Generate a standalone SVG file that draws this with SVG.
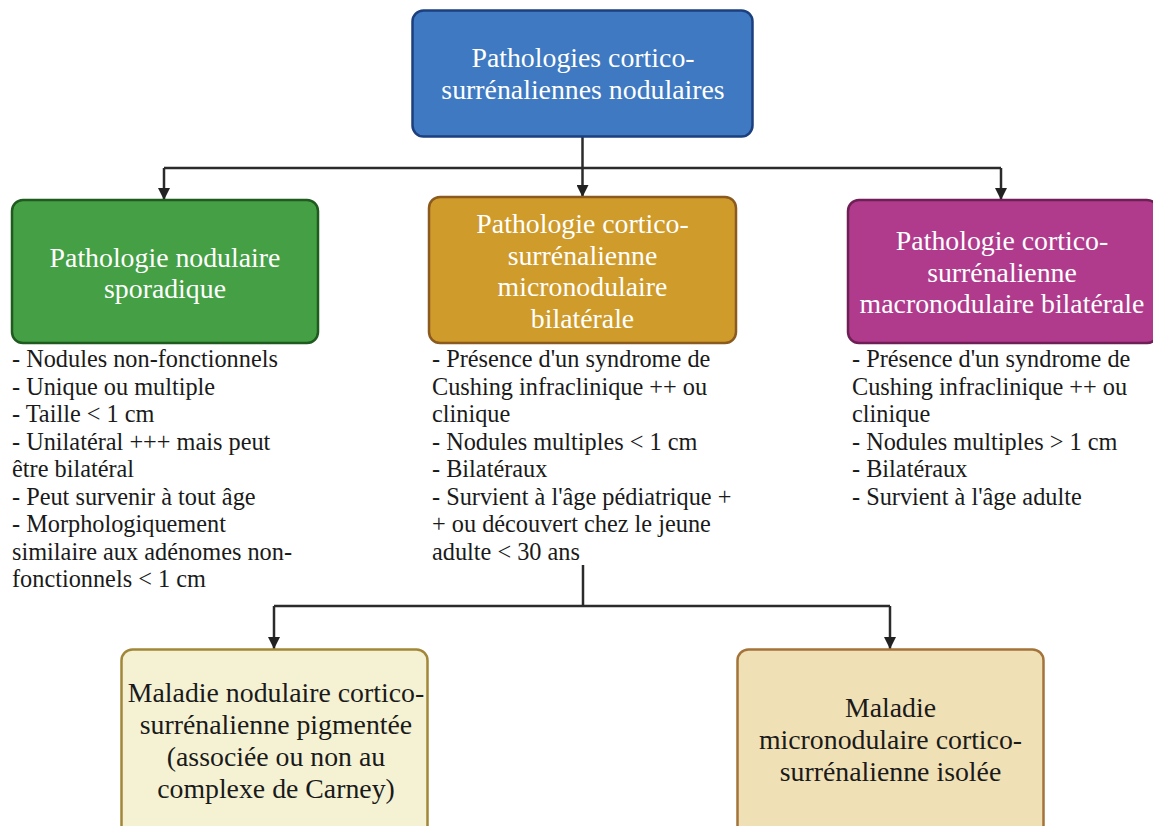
<svg xmlns="http://www.w3.org/2000/svg" width="1153" height="826" viewBox="0 0 1153 826">
<style>
.box{stroke-width:2.5}
.t{font-family:"Liberation Serif","Times New Roman",serif;font-size:27.8px;text-anchor:middle}
.w{fill:#ffffff}
.d{fill:#1a1a1a}
.b{font-family:"Liberation Serif","Times New Roman",serif;font-size:24.3px;fill:#1a1a1a}
.c{fill:none;stroke:#2b2b2b;stroke-width:2.5}
</style>
<defs>
<marker id="ah" viewBox="0 0 12 12" refX="12" refY="6" markerWidth="12" markerHeight="12" markerUnits="userSpaceOnUse" orient="auto">
<path d="M0,0 L12,6 L0,12 Z" fill="#222"/>
</marker>
</defs>
<rect width="1153" height="826" fill="#ffffff"/>
<g id="connectors">
<path class="c" d="M582.5,136 V197" marker-end="url(#ah)"/>
<path class="c" d="M164,168 H1001"/>
<path class="c" d="M164,168 V200" marker-end="url(#ah)"/>
<path class="c" d="M1001,168 V200" marker-end="url(#ah)"/>
<path class="c" d="M583,565 V606"/>
<path class="c" d="M274,606 H890"/>
<path class="c" d="M274,606 V649" marker-end="url(#ah)"/>
<path class="c" d="M890,606 V649" marker-end="url(#ah)"/>
</g>
<g id="root">
<rect class="box" x="412.5" y="10.5" width="340" height="126" rx="11" fill="#3e79c1" stroke="#1c3f7f"/>
<text class="t w" x="583" y="67">Pathologies cortico-</text>
<text class="t w" x="583" y="99">surrénaliennes nodulaires</text>
</g>
<g id="sporadique">
<rect class="box" x="12" y="200" width="306" height="143" rx="11" fill="#45a045" stroke="#1f5a1f"/>
<text class="t w" x="165" y="267">Pathologie nodulaire</text>
<text class="t w" x="165" y="298">sporadique</text>
<text class="b"><tspan x="12" y="367">- Nodules non-fonctionnels</tspan><tspan x="12" y="394.5">- Unique ou multiple</tspan><tspan x="12" y="422">- Taille &lt; 1 cm</tspan><tspan x="12" y="449.5">- Unilatéral +++ mais peut</tspan><tspan x="12" y="477">être bilatéral</tspan><tspan x="12" y="504.5">- Peut survenir à tout âge</tspan><tspan x="12" y="532">- Morphologiquement</tspan><tspan x="12" y="559.5">similaire aux adénomes non-</tspan><tspan x="12" y="587">fonctionnels &lt; 1 cm</tspan></text>
</g>
<g id="micronodulaire">
<rect class="box" x="429" y="197" width="307" height="146" rx="11" fill="#cf9b2b" stroke="#8b5a1e"/>
<text class="t w" x="582.5" y="233">Pathologie cortico-</text>
<text class="t w" x="582.5" y="264.5">surrénalienne</text>
<text class="t w" x="582.5" y="296">micronodulaire</text>
<text class="t w" x="582.5" y="327.5">bilatérale</text>
<text class="b"><tspan x="432" y="367">- Présence d'un syndrome de</tspan><tspan x="432" y="394.5">Cushing infraclinique ++ ou</tspan><tspan x="432" y="422">clinique</tspan><tspan x="432" y="449.5">- Nodules multiples &lt; 1 cm</tspan><tspan x="432" y="477">- Bilatéraux</tspan><tspan x="432" y="504.5">- Survient à l'âge pédiatrique +</tspan><tspan x="432" y="532">+ ou découvert chez le jeune</tspan><tspan x="432" y="559.5">adulte &lt; 30 ans</tspan></text>
</g>
<g id="macronodulaire">
<rect class="box" x="848" y="200" width="310" height="143" rx="11" fill="#b03b8d" stroke="#6e1f55"/>
<text class="t w" x="1002" y="250">Pathologie cortico-</text>
<text class="t w" x="1002" y="282">surrénalienne</text>
<text class="t w" x="1002" y="313">macronodulaire bilatérale</text>
<text class="b"><tspan x="852" y="367">- Présence d'un syndrome de</tspan><tspan x="852" y="394.5">Cushing infraclinique ++ ou</tspan><tspan x="852" y="422">clinique</tspan><tspan x="852" y="449.5">- Nodules multiples &gt; 1 cm</tspan><tspan x="852" y="477">- Bilatéraux</tspan><tspan x="852" y="504.5">- Survient à l'âge adulte</tspan></text>
</g>
<g id="pigmentee">
<rect class="box" x="121.5" y="649.5" width="306" height="200" rx="11" fill="#f5f2d4" stroke="#a38738"/>
<text class="t d" x="276" y="702">Maladie nodulaire cortico-</text>
<text class="t d" x="276" y="734">surrénalienne pigmentée</text>
<text class="t d" x="276" y="766">(associée ou non au</text>
<text class="t d" x="276" y="798">complexe de Carney)</text>
</g>
<g id="isolee">
<rect class="box" x="737.5" y="649.5" width="306" height="200" rx="11" fill="#f0e0b5" stroke="#a4733a"/>
<text class="t d" x="890.5" y="717">Maladie</text>
<text class="t d" x="890.5" y="749">micronodulaire cortico-</text>
<text class="t d" x="890.5" y="781">surrénalienne isolée</text>
</g>
</svg>
